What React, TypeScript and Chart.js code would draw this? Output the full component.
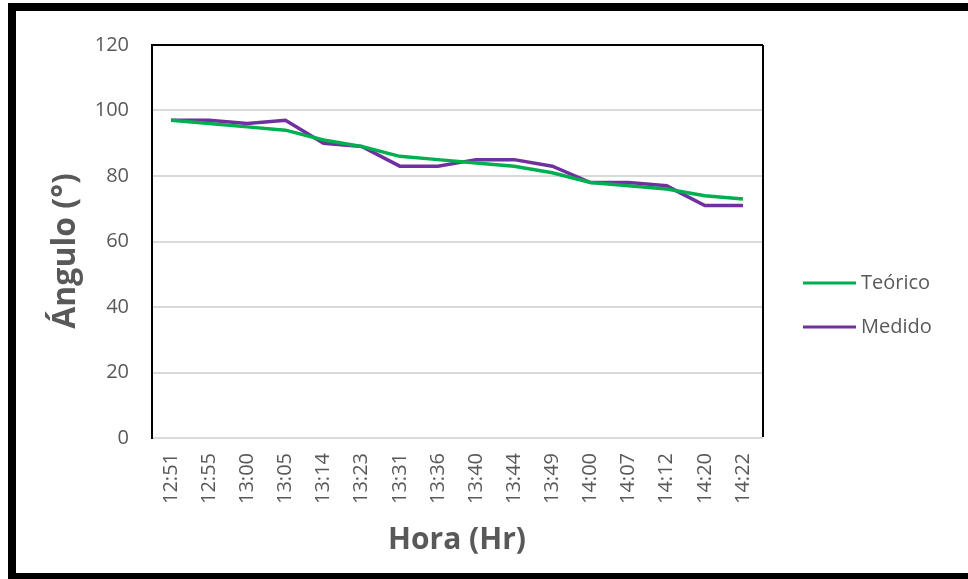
import React, { useEffect, useRef } from "react";
import { Chart, registerables } from "chart.js";

Chart.register(...registerables);

const categories = ["12:51", "12:55", "13:00", "13:05", "13:14", "13:23", "13:31", "13:36", "13:40", "13:44", "13:49", "14:00", "14:07", "14:12", "14:20", "14:22"];
const teorico = [97, 96, 95, 94, 91, 89, 86, 85, 84, 83, 81, 78, 77, 76, 74, 73];
const medido = [97, 97, 96, 97, 90, 89, 83, 83, 85, 85, 83, 78, 78, 77, 71, 71];
const seriesNames = ["Teórico", "Medido"];
const seriesColors = ["#00B050", "#7030A0"];
const yMin = 0;
const yMax = 120;
const yStep = 20;
const xTitle = "Hora (Hr)";
const yTitle = "Ángulo (°)";

const FONT = "'Open Sans', 'Noto Sans', sans-serif";
const TEXT = "#595959";

const framePlugin = {
  id: "frame",
  beforeDraw(chart: any) {
    const ctx = chart.ctx;
    ctx.save();
    ctx.fillStyle = "#ffffff";
    ctx.fillRect(0, 0, chart.width, chart.height);
    ctx.fillStyle = "#000000";
    ctx.fillRect(8, 3, chart.width - 8, 8);
    ctx.fillRect(8, 3, 8, chart.height - 3);
    ctx.fillRect(8, 573, chart.width - 8, 6);
    ctx.restore();
  },
  afterDatasetsDraw(chart: any) {
    const { ctx, chartArea } = chart;
    ctx.save();
    ctx.strokeStyle = "#000000";
    ctx.lineWidth = 2;
    ctx.beginPath();
    ctx.moveTo(chartArea.left - 1, chartArea.top);
    ctx.lineTo(chartArea.right + 1, chartArea.top);
    ctx.moveTo(chartArea.right + 1, chartArea.top);
    ctx.lineTo(chartArea.right + 1, chartArea.bottom - 1);
    ctx.stroke();
    ctx.restore();
  },
};

const yTitlePlugin = {
  id: "yTitle",
  afterDraw(chart: any) {
    const ctx = chart.ctx;
    ctx.save();
    ctx.translate(66, 251);
    ctx.rotate(-Math.PI / 2);
    ctx.fillStyle = TEXT;
    ctx.font = `bold 32px ${FONT}`;
    ctx.textAlign = "center";
    ctx.textBaseline = "middle";
    ctx.fillText(yTitle, 0, 0);
    ctx.restore();
  },
};

const legendPlugin = {
  id: "customLegend",
  afterDraw(chart: any) {
    const ctx = chart.ctx;
    const ys = [283, 327];
    ctx.save();
    chart.data.datasets.forEach((ds: any, i: number) => {
      const y = ys[i];
      ctx.strokeStyle = ds.borderColor;
      ctx.lineWidth = 3;
      ctx.beginPath();
      ctx.moveTo(803, y);
      ctx.lineTo(856, y);
      ctx.stroke();
      ctx.fillStyle = TEXT;
      ctx.font = `20px ${FONT}`;
      ctx.textBaseline = "middle";
      ctx.textAlign = "left";
      ctx.fillText(ds.label, 861, y);
    });
    ctx.restore();
  },
};

export default function App() {
  const ref = useRef<HTMLCanvasElement | null>(null);

  useEffect(() => {
    if (!ref.current) return;
    const chart = new Chart(ref.current, {
      type: "line",
      data: {
        labels: categories,
        datasets: [
          {
            label: seriesNames[0],
            data: teorico,
            borderColor: seriesColors[0],
            backgroundColor: seriesColors[0],
            borderWidth: 3.5,
            pointRadius: 0,
            tension: 0,
          },
          {
            label: seriesNames[1],
            data: medido,
            borderColor: seriesColors[1],
            backgroundColor: seriesColors[1],
            borderWidth: 3.5,
            pointRadius: 0,
            tension: 0,
          },
        ],
      },
      options: {
        animation: false,
        responsive: false,
        devicePixelRatio: 1,
        layout: { padding: { top: 45, right: 206, bottom: 0, left: 0 } },
        plugins: {
          legend: { display: false },
          tooltip: { enabled: false },
        },
        scales: {
          x: {
            type: "category",
            offset: true,
            grid: { display: false, drawTicks: false },
            border: { display: true, color: "#d9d9d9", width: 2 },
            ticks: {
              autoSkip: false,
              maxRotation: 90,
              minRotation: 90,
              padding: 15,
              color: TEXT,
              font: { family: FONT, size: 20 },
            },
            title: {
              display: true,
              text: xTitle,
              color: TEXT,
              font: { family: FONT, size: 30, weight: "bold" },
              padding: { top: 0, bottom: 21 },
            },
            afterFit(scale: any) {
              scale.height = 141;
            },
          },
          y: {
            min: yMin,
            max: yMax,
            grid: { color: "#d9d9d9", lineWidth: 2, drawTicks: false },
            border: { display: true, color: "#000000", width: 2 },
            ticks: {
              stepSize: yStep,
              padding: 23,
              color: TEXT,
              font: { family: FONT, size: 20 },
            },
            title: { display: false },
            afterFit(scale: any) {
              scale.width = 152;
            },
          },
        },
      },
      plugins: [framePlugin, yTitlePlugin, legendPlugin],
    } as any);
    return () => chart.destroy();
  }, []);

  return (
    <div style={{ position: "absolute", left: 0, top: 0, width: 968, height: 579 }}>
      <canvas ref={ref} width={968} height={579} style={{ width: 968, height: 579, display: "block" }} />
    </div>
  );
}
